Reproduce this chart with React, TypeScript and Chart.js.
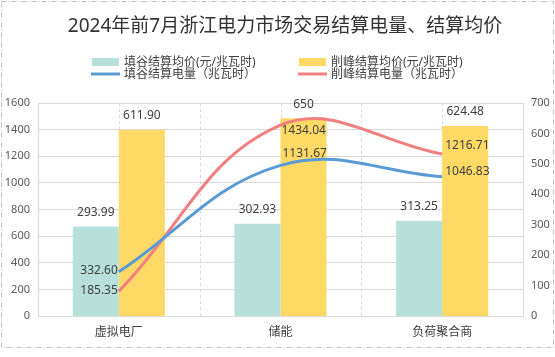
import React, { useEffect, useRef } from "react";
import { Chart, registerables } from "chart.js";

Chart.register(...registerables);

const title = "2024年前7月浙江电力市场交易结算电量、结算均价";
const categories = ["虚拟电厂", "储能", "负荷聚合商"];
const valleyPrice = [293.99, 302.93, 313.25];
const peakPrice = [611.9, 650, 624.48];
const valleyEnergy = [332.6, 1131.67, 1046.83];
const peakEnergy = [185.35, 1434.04, 1216.71];
const seriesNames = [
  "填谷结算均价(元/兆瓦时)",
  "削峰结算均价(元/兆瓦时)",
  "填谷结算电量（兆瓦时）",
  "削峰结算电量（兆瓦时）",
];

const FONT = '"Noto Sans", "Noto Sans CJK SC", sans-serif';
const TEAL = "#b8e0da";
const YELLOW = "#ffd966";
const BLUE = "#5b9bd5";
const RED = "#f08080";
const GRID = "#d9d9d9";

const fmt = (v: number) => (Number.isInteger(v) ? String(v) : v.toFixed(2));

// label placement per line dataset per point: [align, dx, dy]
const lineLabelPlace: Record<number, [CanvasTextAlign, number, number][]> = {
  2: [["right", -1, -1], ["left", 2, -12], ["left", 3, -5]],
  3: [["right", -1, -1], ["left", 1, 5], ["left", 3, -8]],
};

const extrasPlugin = {
  id: "extras",
  beforeDatasetsDraw(chart: any) {
    const { ctx, chartArea, scales } = chart;
    const xs = scales.x;
    const n = categories.length;
    const w = (chartArea.right - chartArea.left) / n;
    ctx.save();
    ctx.strokeStyle = GRID;
    ctx.lineWidth = 1;
    ctx.setLineDash([3, 3]);
    for (let i = 0; i < n; i++) {
      const xc = Math.round(xs.getPixelForValue(i)) + 0.5;
      const xs2 = [xc];
      if (i > 0) xs2.push(Math.round(chartArea.left + w * i) + 0.5);
      for (const x of xs2) {
        ctx.beginPath();
        ctx.moveTo(x, chartArea.top);
        ctx.lineTo(x, chartArea.bottom);
        ctx.stroke();
      }
    }
    ctx.restore();
  },
  afterDatasetsDraw(chart: any) {
    const { ctx } = chart;
    ctx.save();
    ctx.font = `12px ${FONT}`;
    ctx.fillStyle = "#404040";
    ctx.textBaseline = "middle";
    [0, 1].forEach((di) => {
      const meta = chart.getDatasetMeta(di);
      const data = chart.data.datasets[di].data as number[];
      meta.data.forEach((el: any, i: number) => {
        ctx.textAlign = "center";
        ctx.fillText(fmt(data[i]), el.x, el.y - 14);
      });
    });
    [2, 3].forEach((di) => {
      const meta = chart.getDatasetMeta(di);
      const data = chart.data.datasets[di].data as number[];
      meta.data.forEach((el: any, i: number) => {
        const [al, dx, dy] = lineLabelPlace[di][i];
        ctx.textAlign = al;
        ctx.fillText(fmt(data[i]), el.x + dx, el.y + dy);
      });
    });
    ctx.restore();
  },
  afterDraw(chart: any) {
    const { ctx, width, height } = chart;
    ctx.save();
    ctx.strokeStyle = "#c0c0c0";
    ctx.lineWidth = 1;
    ctx.setLineDash([5, 2, 1, 2]);
    ctx.strokeRect(1.5, 1.5, width - 3, height - 11);
    ctx.setLineDash([]);
    ctx.fillStyle = "#333333";
    ctx.font = `19px ${FONT}`;
    ctx.textAlign = "center";
    ctx.textBaseline = "middle";
    ctx.fillText(title, 285, 27);
    ctx.font = `12px ${FONT}`;
    ctx.textAlign = "left";
    const cols = [92, 299];
    const rows = [62, 74];
    const colors = [TEAL, YELLOW, BLUE, RED];
    seriesNames.forEach((name, i) => {
      const x = cols[i % 2];
      const y = rows[Math.floor(i / 2)];
      if (i < 2) {
        ctx.fillStyle = colors[i];
        ctx.fillRect(x, y - 4, 27, 8);
      } else {
        ctx.strokeStyle = colors[i];
        ctx.lineWidth = 3;
        ctx.beginPath();
        ctx.moveTo(x - 1, y);
        ctx.lineTo(x + 28, y);
        ctx.stroke();
      }
      ctx.fillStyle = "#404040";
      ctx.fillText(name, x + 32, y + 1);
    });
    ctx.restore();
  },
};

export default function App() {
  const ref = useRef<HTMLCanvasElement>(null);
  useEffect(() => {
    document.body.style.margin = "0";
    const chart = new Chart(ref.current!, {
      type: "bar",
      data: {
        labels: categories,
        datasets: [
          {
            type: "bar",
            label: seriesNames[0],
            data: valleyPrice,
            backgroundColor: TEAL,
            yAxisID: "y1",
            order: 2,
            categoryPercentage: 0.57,
            barPercentage: 1,
          },
          {
            type: "bar",
            label: seriesNames[1],
            data: peakPrice,
            backgroundColor: YELLOW,
            yAxisID: "y1",
            order: 2,
            categoryPercentage: 0.57,
            barPercentage: 1,
          },
          {
            type: "line",
            label: seriesNames[2],
            data: valleyEnergy,
            borderColor: BLUE,
            backgroundColor: BLUE,
            borderWidth: 3,
            pointRadius: 0,
            tension: 0.4,
            yAxisID: "y",
            order: 0,
          },
          {
            type: "line",
            label: seriesNames[3],
            data: peakEnergy,
            borderColor: RED,
            backgroundColor: RED,
            borderWidth: 3,
            pointRadius: 0,
            tension: 0.4,
            yAxisID: "y",
            order: 0,
          },
        ] as any,
      },
      options: {
        responsive: false,
        animation: false,
        layout: { padding: { top: 103, left: 0, right: 0, bottom: 0 } },
        plugins: {
          legend: { display: false },
          title: { display: false },
          tooltip: { enabled: false },
        },
        scales: {
          x: {
            offset: true,
            grid: { display: false, drawTicks: false },
            border: { color: GRID },
            ticks: { color: "#404040", font: { size: 12, family: FONT }, padding: 9 },
            afterFit: (s: any) => {
              s.height = 41;
            },
          },
          y: {
            position: "left",
            min: 0,
            max: 1600,
            ticks: {
              stepSize: 200,
              color: "#595959",
              font: { size: 11, family: FONT },
              padding: 8,
              callback: (v: any) => String(v),
            },
            grid: { color: GRID, drawTicks: false },
            border: { color: GRID },
            afterFit: (s: any) => {
              s.width = 38;
            },
          },
          y1: {
            position: "right",
            min: 0,
            max: 700,
            ticks: {
              stepSize: 100,
              color: "#595959",
              font: { size: 11, family: FONT },
              padding: 8,
              callback: (v: any) => String(v),
            },
            grid: { display: false, drawTicks: false },
            border: { color: GRID },
            afterFit: (s: any) => {
              s.width = 32;
            },
          },
        },
      },
      plugins: [extrasPlugin],
    });
    return () => chart.destroy();
  }, []);
  return (
    <div style={{ width: 555, height: 357, position: "relative", background: "#fff" }}>
      <canvas ref={ref} width={555} height={357} />
    </div>
  );
}
